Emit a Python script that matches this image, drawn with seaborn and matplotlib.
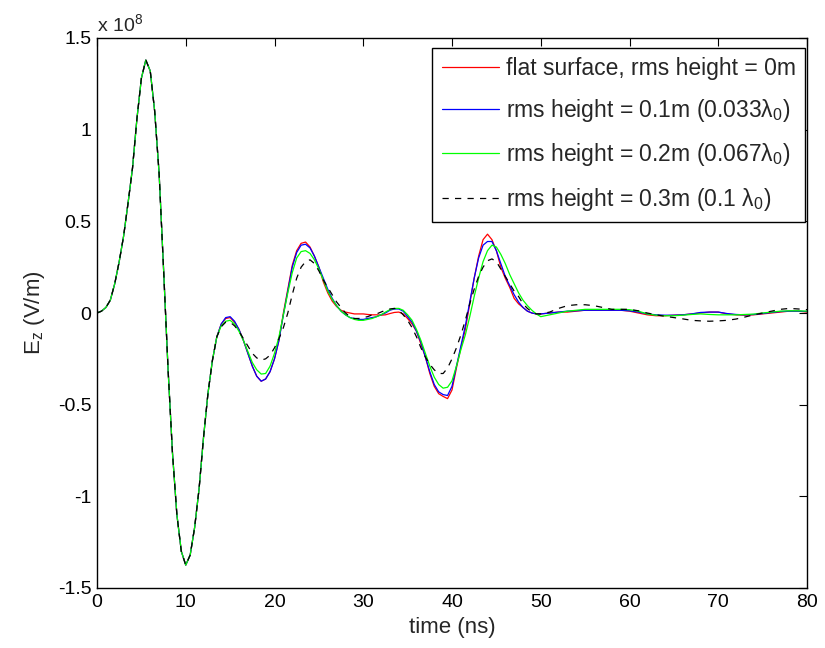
import pandas as pd
import matplotlib
matplotlib.use("Agg")
import matplotlib.pyplot as plt
import seaborn as sns

# time axis (ns)
time_common = [0, 0.5, 1, 1.5, 2, 2.5, 3, 3.5, 4, 4.5, 5, 5.5, 6, 6.5, 7, 7.5, 8, 8.5, 9, 9.5,
               10, 10.5, 11, 11.5, 12, 12.5, 13]
time_tail = [13.5, 14, 14.5, 15, 15.5, 16, 16.5, 17, 17.5, 18,
             18.5, 19, 19.5, 20, 20.5, 21, 21.5, 22, 22.5, 23,
             23.5, 24, 24.5, 25, 25.5, 26, 26.5, 27, 27.5, 28,
             28.5, 29, 29.5, 30, 30.5, 31, 31.5, 32, 32.5, 33,
             33.5, 34, 34.5, 35, 35.5, 36, 36.5, 37, 37.5, 38,
             38.5, 39, 39.5, 40, 40.5, 41, 41.5, 42, 42.5, 43,
             43.5, 44, 44.5, 45, 45.5, 46, 46.5, 47, 47.5, 48,
             48.5, 49, 49.5, 50,
             51, 52, 53, 54, 55, 56, 57, 58, 59, 60,
             61, 62, 63, 64, 65, 66, 67, 68, 69, 70,
             71, 72, 73, 74, 75, 76, 77, 78, 79, 80]

# Ez in units of 1e8 V/m; first pulse is identical for all surfaces
ez_common = [0, 0.01, 0.03, 0.07, 0.16, 0.28, 0.42, 0.60, 0.79, 1.06, 1.28, 1.38, 1.32, 1.10,
             0.76, 0.24, -0.30, -0.76, -1.10, -1.30, -1.375, -1.32, -1.17, -0.96, -0.68, -0.44, -0.26]

ez_flat = [-0.13, -0.06, -0.03, -0.025, -0.05, -0.09, -0.15, -0.22, -0.29, -0.345,
           -0.372, -0.36, -0.32, -0.25, -0.15, 0.0, 0.13, 0.26, 0.34, 0.38,
           0.387, 0.36, 0.31, 0.25, 0.17, 0.11, 0.065, 0.035, 0.015, 0.005,
           0.0, -0.005, -0.005, -0.005, -0.008, -0.01, -0.01, -0.012, -0.01, -0.003,
           0.003, 0.005, -0.005, -0.03, -0.06, -0.1, -0.17, -0.24, -0.33, -0.4,
           -0.44, -0.455, -0.467, -0.42, -0.3, -0.19, -0.09, 0.05, 0.19, 0.31,
           0.4, 0.43, 0.4, 0.34, 0.25, 0.19, 0.14, 0.08, 0.05, 0.03,
           0.01, 0.0, -0.005, -0.005,
           0.0, 0.005, 0.005, 0.01, 0.015, 0.015, 0.015, 0.015, 0.015, 0.01,
           0.0, -0.01, -0.015, -0.015, -0.012, -0.01, -0.005, 0.0, 0.005, 0.005,
           -0.005, -0.01, -0.012, -0.01, -0.005, 0.0, 0.005, 0.01, 0.01, 0.005]

ez_h01 = [-0.13, -0.06, -0.025, -0.02, -0.045, -0.09, -0.15, -0.22, -0.29, -0.345,
          -0.372, -0.36, -0.32, -0.25, -0.15, -0.01, 0.12, 0.25, 0.33, 0.37,
          0.375, 0.355, 0.31, 0.25, 0.19, 0.13, 0.08, 0.04, 0.01, -0.01,
          -0.025, -0.03, -0.035, -0.035, -0.03, -0.025, -0.02, -0.01, 0.0, 0.015,
          0.022, 0.022, 0.01, -0.02, -0.05, -0.1, -0.16, -0.24, -0.32, -0.39,
          -0.43, -0.445, -0.45, -0.4, -0.29, -0.18, -0.07, 0.06, 0.19, 0.3,
          0.37, 0.39, 0.39, 0.34, 0.27, 0.2, 0.15, 0.1, 0.06, 0.03,
          0.01, 0.0, -0.005, -0.005,
          0.0, 0.005, 0.01, 0.012, 0.015, 0.015, 0.015, 0.015, 0.015, 0.012,
          0.005, -0.005, -0.01, -0.012, -0.012, -0.01, -0.005, 0.003, 0.005, 0.005,
          -0.003, -0.008, -0.01, -0.008, -0.003, 0.003, 0.008, 0.01, 0.01, 0.008]

ez_h02 = [-0.13, -0.07, -0.045, -0.04, -0.06, -0.1, -0.15, -0.21, -0.27, -0.31,
          -0.333, -0.33, -0.29, -0.22, -0.13, -0.01, 0.11, 0.22, 0.3, 0.335,
          0.34, 0.325, 0.29, 0.24, 0.18, 0.12, 0.075, 0.04, 0.01, -0.01,
          -0.025, -0.035, -0.04, -0.04, -0.035, -0.03, -0.02, -0.01, 0.005, 0.018,
          0.025, 0.025, 0.015, -0.01, -0.04, -0.09, -0.15, -0.22, -0.29, -0.35,
          -0.39, -0.41, -0.405, -0.37, -0.29, -0.2, -0.12, -0.02, 0.09, 0.19,
          0.28, 0.34, 0.37, 0.36, 0.32, 0.27, 0.21, 0.16, 0.11, 0.07,
          0.04, 0.015, -0.005, -0.02,
          -0.01, 0.0, 0.01, 0.015, 0.02, 0.02, 0.02, 0.02, 0.02, 0.018,
          0.01, -0.005, -0.012, -0.015, -0.015, -0.012, -0.008, -0.005, -0.008, -0.01,
          -0.01, -0.01, -0.008, -0.006, 0.0, 0.005, 0.01, 0.012, 0.012, 0.01]

ez_h03 = [-0.13, -0.075, -0.05, -0.05, -0.07, -0.1, -0.14, -0.18, -0.22, -0.245,
          -0.257, -0.25, -0.23, -0.19, -0.14, -0.08, 0.0, 0.1, 0.19, 0.25,
          0.28, 0.29, 0.27, 0.23, 0.18, 0.14, 0.1, 0.06, 0.03, 0.0,
          -0.02, -0.03, -0.03, -0.025, -0.02, -0.01, -0.005, 0.005, 0.015, 0.022,
          0.025, 0.015, -0.01, -0.04, -0.08, -0.13, -0.19, -0.24, -0.28, -0.31,
          -0.33, -0.33, -0.3, -0.25, -0.19, -0.12, -0.04, 0.05, 0.13, 0.2,
          0.25, 0.285, 0.295, 0.28, 0.24, 0.2, 0.16, 0.12, 0.09, 0.05,
          0.025, 0.005, -0.005, -0.005,
          0.005, 0.025, 0.04, 0.045, 0.045, 0.04, 0.03, 0.02, 0.02, 0.02,
          0.012, 0.0, -0.01, -0.018, -0.025, -0.032, -0.04, -0.043, -0.045, -0.043,
          -0.04, -0.033, -0.022, -0.01, 0.0, 0.01, 0.02, 0.025, 0.022, 0.018]

labels = ["flat surface, rms height = 0m",
          "rms height = 0.1m (0.033λ$_0$)",
          "rms height = 0.2m (0.067λ$_0$)",
          "rms height = 0.3m (0.1 λ$_0$)"]
colors = ["#ff0000", "#0000ff", "#00ff00", "#000000"]

frames = []
for lab, tail in zip(labels, [ez_flat, ez_h01, ez_h02, ez_h03]):
    frames.append(pd.DataFrame({"t": time_common + time_tail,
                                "ez": ez_common + tail,
                                "case": lab}))
df = pd.concat(frames, ignore_index=True)

sns.set_theme(style="white")
plt.rcParams["font.family"] = ["Liberation Sans", "DejaVu Sans"]
plt.rcParams["mathtext.fontset"] = "custom"
plt.rcParams["mathtext.rm"] = "Liberation Sans"
plt.rcParams["mathtext.it"] = "Liberation Sans"

fig = plt.figure(figsize=(8.25, 6.48), dpi=100)
ax = fig.add_axes([97 / 825, 60 / 648, 710 / 825, 550 / 648])

sns.lineplot(data=df, x="t", y="ez", hue="case", style="case",
             hue_order=labels, style_order=labels,
             palette=dict(zip(labels, colors)),
             dashes=dict(zip(labels, ["", "", "", (5, 5)])),
             estimator=None, sort=False, linewidth=0.9, ax=ax)

ax.set_xlim(0, 80)
ax.set_ylim(-1.5, 1.5)
ax.set_xticks([0, 10, 20, 30, 40, 50, 60, 70, 80])
ax.set_yticks([-1.5, -1, -0.5, 0, 0.5, 1, 1.5])
ax.set_yticklabels(["-1.5", "-1", "-0.5", "0", "0.5", "1", "1.5"])
ax.tick_params(direction="in", top=True, right=True, length=6, width=0.8,
               labelsize=14, colors="black", pad=4)
for sp in ax.spines.values():
    sp.set_color("black")
    sp.set_linewidth(1.0)

ax.set_xlabel("time (ns)", fontsize=16, labelpad=5)
ax.set_ylabel("E$_{\\mathrm{z}}$ (V/m)", fontsize=16, labelpad=8)
ax.text(0, 1.006, "x 10$^{8}$", transform=ax.transAxes, fontsize=14,
        ha="left", va="bottom")

leg = ax.legend(loc="upper right", bbox_to_anchor=(0.997, 0.982), fontsize=16.5,
                frameon=True, fancybox=False, framealpha=1, edgecolor="black",
                handlelength=2.5, handletextpad=0.3, labelspacing=0.75,
                borderpad=0.4, borderaxespad=0)
leg.get_frame().set_linewidth(1.0)

fig.savefig("out.png", dpi=100)
